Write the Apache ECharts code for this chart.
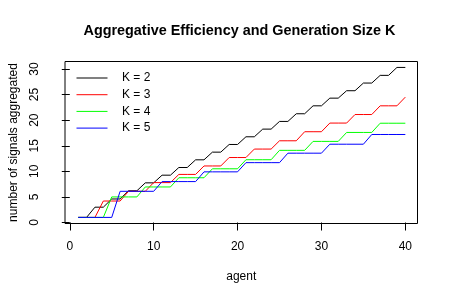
<!DOCTYPE html>
<html>
<head>
<meta charset="utf-8">
<script src="https://cdn.jsdelivr.net/npm/echarts@6/dist/echarts.min.js"></script>
<style>html,body{margin:0;padding:0;background:#fff}#c{width:450px;height:300px}</style>
</head>
<body>
<div id="c"></div>
<script>
var agents = [];
for (var i = 1; i <= 40; i++) agents.push(i);
var seriesNames = ['K = 2', 'K = 3', 'K = 4', 'K = 5'];
var k2 = [1,1,3,3,4.6,4.6,6.2,6.2,7.75,7.75,9.25,9.25,10.75,10.75,12.25,12.25,13.75,13.75,15.25,15.25,16.75,16.75,18.25,18.25,19.75,19.75,21.25,21.25,22.8,22.8,24.3,24.3,25.75,25.75,27.25,27.25,28.75,28.75,30.3,30.3];
var k3 = [1,1,1,4.2,4.2,4.2,6.1,6.1,6.1,7.8,7.8,7.8,9.4,9.4,9.4,11.05,11.05,11.05,12.7,12.7,12.7,14.35,14.35,14.35,15.97,15.97,15.97,17.74,17.74,17.74,19.43,19.43,19.43,21.1,21.1,21.1,22.8,22.8,22.8,24.5];
var k4 = [1,1,1,1,5,5,5,5,6.95,6.95,6.95,6.95,8.75,8.75,8.75,8.75,10.5,10.5,10.5,10.5,12.27,12.27,12.27,12.27,14.1,14.1,14.1,14.1,15.85,15.85,15.85,15.85,17.6,17.6,17.6,17.6,19.4,19.4,19.4,19.4];
var k5 = [1,1,1,1,1,6.1,6.1,6.1,6.1,6.1,8.0,8.0,8.0,8.0,8.0,9.9,9.9,9.9,9.9,9.9,11.7,11.7,11.7,11.7,11.7,13.55,13.55,13.55,13.55,13.55,15.3,15.3,15.3,15.3,15.3,17.2,17.2,17.2,17.2,17.2];
var xTicks = [0, 10, 20, 30, 40];
var yTicks = [0, 5, 10, 15, 20, 25, 30];
var colors = ['#000000', '#ff0000', '#00ff00', '#0000ff'];
var allValues = [k2, k3, k4, k5];

var FONT = 'Liberation Sans';
function pairs(vals) { return agents.map(function (a, i) { return [a, vals[i]]; }); }

var chart = echarts.init(document.getElementById('c'), null, {renderer: 'canvas'});
chart.setOption({
  animation: false,
  backgroundColor: '#ffffff',
  title: {
    text: 'Aggregative Efficiency and Generation Size K',
    left: 83.5, top: 24, padding: 0,
    textStyle: {fontFamily: FONT, fontSize: 14.4, fontWeight: 'bold', color: '#000'}
  },
  legend: {
    orient: 'vertical', left: 76.5, top: 72, padding: 0,
    icon: 'rect', itemWidth: 31, itemHeight: 1, itemGap: 4.7,
    textStyle: {fontFamily: FONT, fontSize: 12, color: '#000', lineHeight: 12, padding: [0, 0, 0, 9.5]},
    data: seriesNames
  },
  grid: {left: 61.5, right: 32.5, top: 61.5, bottom: 76.5, show: true, borderColor: '#000', borderWidth: 1, backgroundColor: 'transparent'},
  xAxis: {
    type: 'value', min: -0.57, max: 41.45,
    name: 'agent', nameLocation: 'middle', nameGap: 47,
    nameTextStyle: {fontFamily: FONT, fontSize: 12, color: '#000'},
    axisLine: {show: false},
    axisTick: {show: true, length: 8, lineStyle: {color: '#000'}, customValues: xTicks},
    axisLabel: {fontFamily: FONT, fontSize: 12, color: '#000', margin: 17, customValues: xTicks},
    splitLine: {show: false}
  },
  yAxis: {
    type: 'value', min: -0.19, max: 31.46,
    name: 'number of signals aggregated', nameLocation: 'middle', nameGap: 45, nameRotate: 90,
    nameTextStyle: {fontFamily: FONT, fontSize: 12, color: '#000'},
    axisLine: {show: false},
    axisTick: {show: true, length: 8, lineStyle: {color: '#000'}, customValues: yTicks},
    axisLabel: {fontFamily: FONT, fontSize: 12, color: '#000', margin: 24, rotate: 90, customValues: yTicks},
    splitLine: {show: false}
  },
  series: seriesNames.map(function (n, i) {
    return {
      name: n, type: 'line', data: pairs(allValues[i]),
      showSymbol: false, symbol: 'none',
      itemStyle: {color: colors[i]},
      lineStyle: {color: colors[i], width: 1},
      emphasis: {disabled: true}
    };
  })
});
</script>
</body>
</html>
